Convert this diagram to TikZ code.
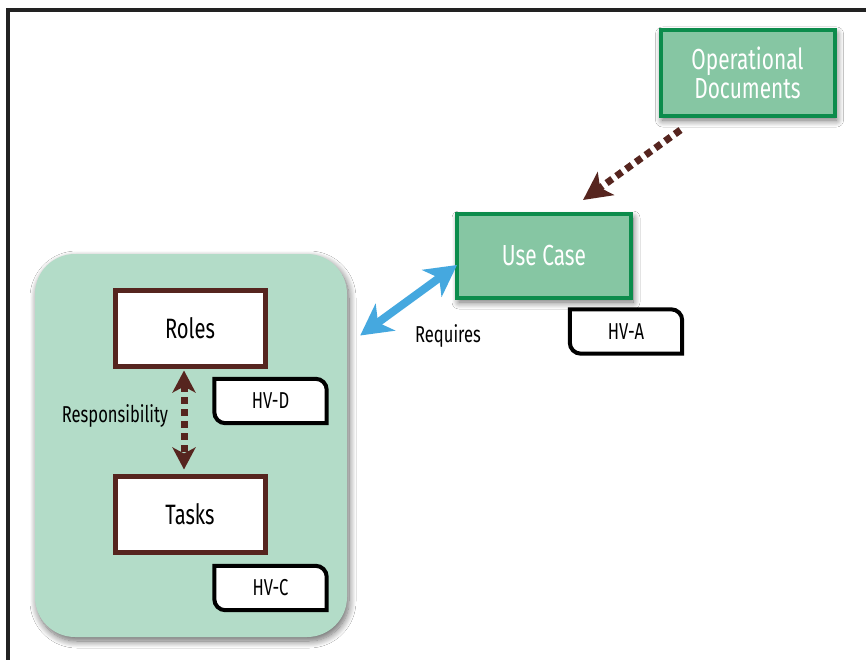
\documentclass[tikz,border=0pt]{standalone}
\usepackage{fontspec}
\setmainfont{Fira Sans}[FakeStretch=0.72]
\usetikzlibrary{arrows.meta,calc,shadows.blur}

\definecolor{boxgreen}{RGB}{134,198,163}
\definecolor{edgegreen}{RGB}{12,140,76}
\definecolor{panelgreen}{RGB}{179,220,200}
\definecolor{brownline}{RGB}{86,37,31}
\definecolor{linkblue}{RGB}{69,168,223}
\definecolor{framegray}{RGB}{34,34,34}

\tikzset{
  softshadow/.style={blur shadow={shadow xshift=2pt,shadow yshift=-4pt,
      shadow blur radius=7pt,shadow blur steps=12,shadow opacity=60}},
  greenbox/.style={draw=edgegreen,line width=4pt,fill=boxgreen,
      text=white,font=\fontsize{29}{31}\selectfont,align=center,softshadow},
  brownbox/.style={draw=brownline,line width=5pt,fill=white,
      minimum width=150pt,minimum height=76pt,font=\fontsize{28}{30}\selectfont},
  tagtext/.style={minimum width=112pt,minimum height=44pt,
      font=\fontsize{23}{25}\selectfont,inner sep=0pt},
  label/.style={font=\fontsize{23}{25}\selectfont,inner sep=0pt},
  dotlink/.style={draw=brownline,line width=7pt,dash pattern=on 7pt off 5pt},
  browntip/.tip={Stealth[length=28pt,width=28pt,inset=7pt]},
  smalltip/.tip={Stealth[length=22pt,width=23pt,inset=6pt]},
  bluetip/.tip={Stealth[length=31pt,width=33pt,inset=9pt]},
}

% tag outline: square top-left and bottom-right, rounded top-right and bottom-left
\newcommand\tagpath[1]{%
  (#1.north west) -- ([xshift=-11pt]#1.north east)
  arc[start angle=90,end angle=0,radius=11pt] -- (#1.south east)
  -- ([xshift=11pt]#1.south west)
  arc[start angle=270,end angle=180,radius=11pt] -- cycle}
\newcommand\tagframe[1]{%
  \fill[black,shift={(-3pt,-3pt)}] \tagpath{#1};
  \draw[black,line width=4pt,fill=white] \tagpath{#1};}

\begin{document}
\begin{tikzpicture}[x=1pt,y=-1pt]
\useasboundingbox (0,0) rectangle (866,660);
\clip (0,0) rectangle (866,660);
\fill[white] (0,0) rectangle (866,660);

% outer frame, running off the right and bottom edges
\draw[framegray,line width=4pt] (870,10) -- (8,10) -- (8,665);

% container panel
\node[draw=none,fill=panelgreen,rounded corners=40pt,softshadow,
      minimum width=312pt,minimum height=383pt] (panel) at (191,445.5) {};

% main boxes
\node[greenbox,minimum width=174pt,minimum height=86pt] (opdoc) at (747.5,73)
  {Operational\\[-2pt]Documents};
\node[greenbox,minimum width=174pt,minimum height=84pt] (usecase) at (544,256) {Use Case};
\node[brownbox] (roles) at (190,328) {Roles};
\node[brownbox] (tasks) at (190,514) {Tasks};

% view tags
\node[tagtext] (hva) at (626,331.5) {};
\tagframe{hva}
\node[tagtext] at (hva) {HV-A};
\node[tagtext] (hvd) at (270.5,401) {};
\tagframe{hvd}
\node[tagtext] at (hvd) {HV-D};
\node[tagtext] (hvc) at (270.5,588) {};
\tagframe{hvc}
\node[tagtext] at (hvc) {HV-C};

% connectors
\draw[dotlink,-{browntip}] ($(opdoc.south west)+(22,12)$) -- ($(usecase.north west)+(128,-12)$);
\draw[linkblue,line width=8pt,{bluetip}-{bluetip}]
  ($(panel.east)+(13,-110)$) -- ($(usecase.west)+(2,9)$);
\draw[dotlink,{smalltip}-{smalltip}]
  ($(roles.south)+(-6,2)$) -- ($(tasks.north)+(-6,-4)$);

% labels
\node[label] (req) at (448,336) {Requires};
\node[label] (resp) at (115,416) {Responsibility};
\end{tikzpicture}
\end{document}
